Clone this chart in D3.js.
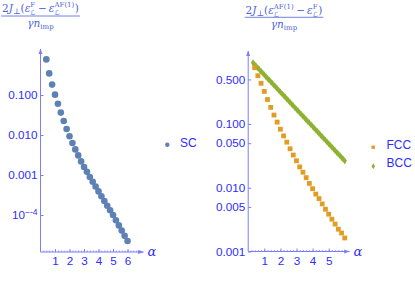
<!DOCTYPE html>
<html>
<head>
<meta charset="utf-8">
<script src="https://cdn.jsdelivr.net/npm/d3@7"></script>
<style>
body { margin: 0; background: #fff; }
text { font-family: "Liberation Sans", Arial, sans-serif; white-space: pre; }
</style>
</head>
<body>
<svg id="chart" width="415" height="281"></svg>
<script>
// alpha values for SC and FCC (step 0.2)
var alphaSC = [0.4, 0.6, 0.8, 1.0, 1.2, 1.4, 1.6, 1.8, 2.0, 2.2, 2.4, 2.6, 2.8, 3.0, 3.2,
               3.4, 3.6, 3.8, 4.0, 4.2, 4.4, 4.6, 4.8, 5.0, 5.2, 5.4, 5.6, 5.8, 6.0];
var scValues = [0.776, 0.347, 0.182, 0.102, 0.0603, 0.0363, 0.0224, 0.0141, 0.00933, 0.00631,
                0.00437, 0.00309, 0.00219, 0.00158, 0.00120, 0.000891, 0.000676, 0.000513,
                0.000389, 0.000295, 0.000224, 0.000170, 0.000132, 0.000100, 0.0000741,
                0.0000550, 0.0000407, 0.0000302, 0.0000224];

var alphaFCC = alphaSC;
var fccValues = [0.762, 0.571, 0.435, 0.324, 0.242, 0.182, 0.138, 0.107, 0.0828, 0.0650,
                 0.0519, 0.0408, 0.0326, 0.0265, 0.0212, 0.0175, 0.0144, 0.0117, 0.00966,
                 0.00796, 0.00676, 0.00557, 0.00460, 0.00385, 0.00321, 0.00269, 0.00224,
                 0.00195, 0.00163];

// BCC is drawn much denser (step 0.1)
var alphaBCC = [0.3, 0.4, 0.5, 0.6, 0.7, 0.8, 0.9, 1.0, 1.1, 1.2, 1.3, 1.4, 1.5, 1.6, 1.7, 1.8,
                1.9, 2.0, 2.1, 2.2, 2.3, 2.4, 2.5, 2.6, 2.7, 2.8, 2.9, 3.0, 3.1, 3.2, 3.3, 3.4,
                3.5, 3.6, 3.7, 3.8, 3.9, 4.0, 4.1, 4.2, 4.3, 4.4, 4.5, 4.6, 4.7, 4.8, 4.9, 5.0,
                5.1, 5.2, 5.3, 5.4, 5.5, 5.6, 5.7, 5.8, 5.9, 6.0];
var bccValues = [0.912, 0.857, 0.805, 0.757, 0.711, 0.668, 0.628, 0.590, 0.555, 0.521, 0.490,
                 0.460, 0.433, 0.406, 0.382, 0.359, 0.337, 0.317, 0.298, 0.280, 0.263, 0.247,
                 0.232, 0.218, 0.205, 0.193, 0.181, 0.170, 0.160, 0.150, 0.141, 0.133, 0.125,
                 0.117, 0.110, 0.104, 0.0973, 0.0914, 0.0859, 0.0807, 0.0759, 0.0713, 0.0670,
                 0.0630, 0.0592, 0.0556, 0.0522, 0.0491, 0.0461, 0.0434, 0.0407, 0.0383,
                 0.0360, 0.0338, 0.0318, 0.0299, 0.0281, 0.0264];

var leftYTicks = [0.1, 0.01, 0.001, 0.0001];
var leftYLabels = ["0.100", "0.010", "0.001", "10|-4"];
var rightYTicks = [0.5, 0.1, 0.05, 0.01, 0.005, 0.001];
var rightYLabels = ["0.500", "0.100", "0.050", "0.010", "0.005", "0.001"];
var leftXTicks = [1, 2, 3, 4, 5, 6];
var rightXTicks = [1, 2, 3, 4, 5];

var colSC = "#5e81b5", colFCC = "#e19c24", colBCC = "#8fb131";
var axisColor = "#7d7dff", labelColor = "#2e2eff", titleColor = "#4f63dc";

var svg = d3.select("#chart");

var defs = svg.append("defs");
defs.append("marker")
    .attr("id", "arrow")
    .attr("viewBox", "0 0 10 10")
    .attr("refX", 9).attr("refY", 5)
    .attr("markerWidth", 6).attr("markerHeight", 6)
    .attr("orient", "auto")
  .append("path")
    .attr("d", "M0,1.5 L10,5 L0,8.5 z")
    .attr("fill", axisColor);

// panel scales
var xL = d3.scaleLinear().domain([0, 7.1]).range([40.5, 143.5]);
var yL = d3.scaleLog().domain([Math.pow(10, -4.925), Math.pow(10, 0.125)]).range([252, 50]);
var xR = d3.scaleLinear().domain([0, 6.3]).range([248.2, 349.6]);
var yR = d3.scaleLog().domain([0.001, Math.pow(10, 0.129)]).range([251.5, 52]);

function drawAxes(x, y, xTicks, yTicks, yLabels) {
  var x0 = x.range()[0], yb = y.range()[0], yt = y.range()[1];

  var yAxis = d3.axisLeft(y)
      .tickValues(yTicks)
      .tickFormat(function(d, i) { return yLabels[i]; })
      .tickSizeInner(-3).tickSizeOuter(0).tickPadding(3);
  var gy = svg.append("g").attr("transform", "translate(" + x0 + ",0)").call(yAxis);
  gy.select(".domain").remove();
  gy.selectAll("line").attr("stroke", axisColor);
  gy.selectAll("text")
      .attr("fill", labelColor)
      .style("font-size", "11.7px")
      .each(function() {
        var t = d3.select(this), s = t.text();
        if (s.indexOf("|") >= 0) {
          var p = s.split("|");
          t.text(p[0]);
          t.append("tspan").attr("dy", "-0.45em").style("font-size", "8.5px").text("\u2212" + p[1]);
        }
      });

  // minor ticks along alpha
  var minor = d3.range(0.2, x.domain()[1] - 0.1, 0.2);
  var gm = svg.append("g").attr("transform", "translate(0," + yb + ")")
      .call(d3.axisBottom(x).tickValues(minor).tickSizeInner(-1.5).tickSizeOuter(0).tickFormat(""));
  gm.select(".domain").remove();
  gm.selectAll("line").attr("stroke", axisColor).attr("stroke-width", 0.8);

  var xAxis = d3.axisBottom(x)
      .tickValues(xTicks)
      .tickFormat(d3.format("d"))
      .tickSizeInner(-3).tickSizeOuter(0).tickPadding(5);
  var gx = svg.append("g").attr("transform", "translate(0," + yb + ")").call(xAxis);
  gx.select(".domain").remove();
  gx.selectAll("line").attr("stroke", axisColor);
  gx.selectAll("text").attr("fill", labelColor).style("font-size", "11.7px");

  svg.append("line")
      .attr("x1", x0).attr("y1", yb).attr("x2", x0).attr("y2", yt - 1)
      .attr("stroke", axisColor).attr("stroke-width", 1)
      .attr("marker-end", "url(#arrow)");
  svg.append("line")
      .attr("x1", x0).attr("y1", yb).attr("x2", x.range()[1]).attr("y2", yb)
      .attr("stroke", axisColor).attr("stroke-width", 1)
      .attr("marker-end", "url(#arrow)");

  svg.append("text")
      .attr("x", x.range()[1] + 4).attr("y", yb + 4)
      .attr("fill", labelColor)
      .style("font-family", "'DejaVu Serif', serif")
      .style("font-style", "italic")
      .style("font-size", "13px")
      .text("\u03b1");
}

drawAxes(xL, yL, leftXTicks, leftYTicks, leftYLabels);
drawAxes(xR, yR, rightXTicks, rightYTicks, rightYLabels);

// SC points
svg.append("g").selectAll("circle")
    .data(alphaSC)
    .enter().append("circle")
    .attr("cx", function(d) { return xL(d); })
    .attr("cy", function(d, i) { return yL(scValues[i]); })
    .attr("r", 3.3)
    .attr("fill", colSC);

// BCC points (diamonds)
var diamond = d3.symbol().type(d3.symbolDiamond).size(15);
svg.append("g").selectAll("path")
    .data(alphaBCC)
    .enter().append("path")
    .attr("d", diamond)
    .attr("transform", function(d, i) {
      return "translate(" + xR(d) + "," + yR(bccValues[i]) + ")";
    })
    .attr("fill", colBCC);

// FCC points (squares)
svg.append("g").selectAll("rect")
    .data(alphaFCC)
    .enter().append("rect")
    .attr("x", function(d) { return xR(d) - 2.4; })
    .attr("y", function(d, i) { return yR(fccValues[i]) - 2.4; })
    .attr("width", 4.8).attr("height", 4.8)
    .attr("fill", colFCC);

// legends
function legendText(x, y, s) {
  svg.append("text").attr("x", x).attr("y", y)
      .attr("fill", labelColor).style("font-size", "12px").text(s);
}
svg.append("circle").attr("cx", 167.3).attr("cy", 144.7).attr("r", 2.2).attr("fill", colSC);
legendText(180, 147, "SC");
svg.append("rect").attr("x", 371.5).attr("y", 145.5).attr("width", 3.4).attr("height", 3.4).attr("fill", colFCC);
legendText(386.5, 149, "FCC");
svg.append("path").attr("d", d3.symbol().type(d3.symbolDiamond).size(10))
    .attr("transform", "translate(373.3,166.2)").attr("fill", colBCC);
legendText(386.5, 167, "BCC");

// fraction titles, pieces laid out one after another
var scriptFont = "'DejaVu Sans', 'Noto Sans CJK SC', 'DejaVu Serif', serif";
function fracTitle(cx, yNum, yLine, yDen, numParts, denParts) {
  function layout(parts, yBase) {
    var g = svg.append("g");
    var xpos = 0;
    parts.forEach(function(p) {
      if (p.sup !== undefined) {
        var a = g.append("text").attr("x", xpos).attr("y", yBase - 5)
            .attr("fill", titleColor)
            .style("font-family", "'DejaVu Serif', serif")
            .style("font-size", "7px").text(p.sup);
        var b = g.append("text").attr("x", xpos).attr("y", yBase + 2.5)
            .attr("fill", titleColor)
            .style("font-family", scriptFont)
            .style("font-size", "7px").text(p.sub);
        xpos += Math.max(a.node().getComputedTextLength(), b.node().getComputedTextLength()) + 0.5;
      } else {
        var t = g.append("text").attr("x", xpos).attr("y", yBase + (p.dy || 0))
            .attr("fill", titleColor)
            .style("font-family", "'DejaVu Serif', serif")
            .style("font-size", (p.size || 10.5) + "px")
            .style("font-style", p.it ? "italic" : "normal")
            .text(p.t);
        xpos += t.node().getComputedTextLength();
      }
    });
    g.attr("transform", "translate(" + (cx - xpos / 2) + ",0)");
    return xpos;
  }
  var w = layout(numParts, yNum);
  layout(denParts, yDen);
  svg.append("line")
      .attr("x1", cx - w / 2 - 1).attr("x2", cx + w / 2 + 1)
      .attr("y1", yLine).attr("y2", yLine)
      .attr("stroke", titleColor).attr("stroke-width", 0.8);
}

var denParts = [{t: "\u03b3", it: true}, {t: "n", it: true}, {t: "imp", size: 7, dy: 2}];
var minus = "\u2009\u2212\u2009";
fracTitle(40.5, 12.3, 16, 26.5,
  [{t: "2"}, {t: "J", it: true}, {t: "\u22a5", size: 8, dy: 1.5}, {t: "("}, {t: "\u03b5", it: true},
   {sup: "F", sub: "\u2112"}, {t: minus}, {t: "\u03b5", it: true},
   {sup: "AF(1)", sub: "\u2112"}, {t: ")"}],
  denParts);
fracTitle(284, 14, 17.3, 28.3,
  [{t: "2"}, {t: "J", it: true}, {t: "\u22a5", size: 8, dy: 1.5}, {t: "("}, {t: "\u03b5", it: true},
   {sup: "AF(1)", sub: "\u2112"}, {t: minus}, {t: "\u03b5", it: true},
   {sup: "F", sub: "\u2112"}, {t: ")"}],
  denParts);
</script>
</body>
</html>
